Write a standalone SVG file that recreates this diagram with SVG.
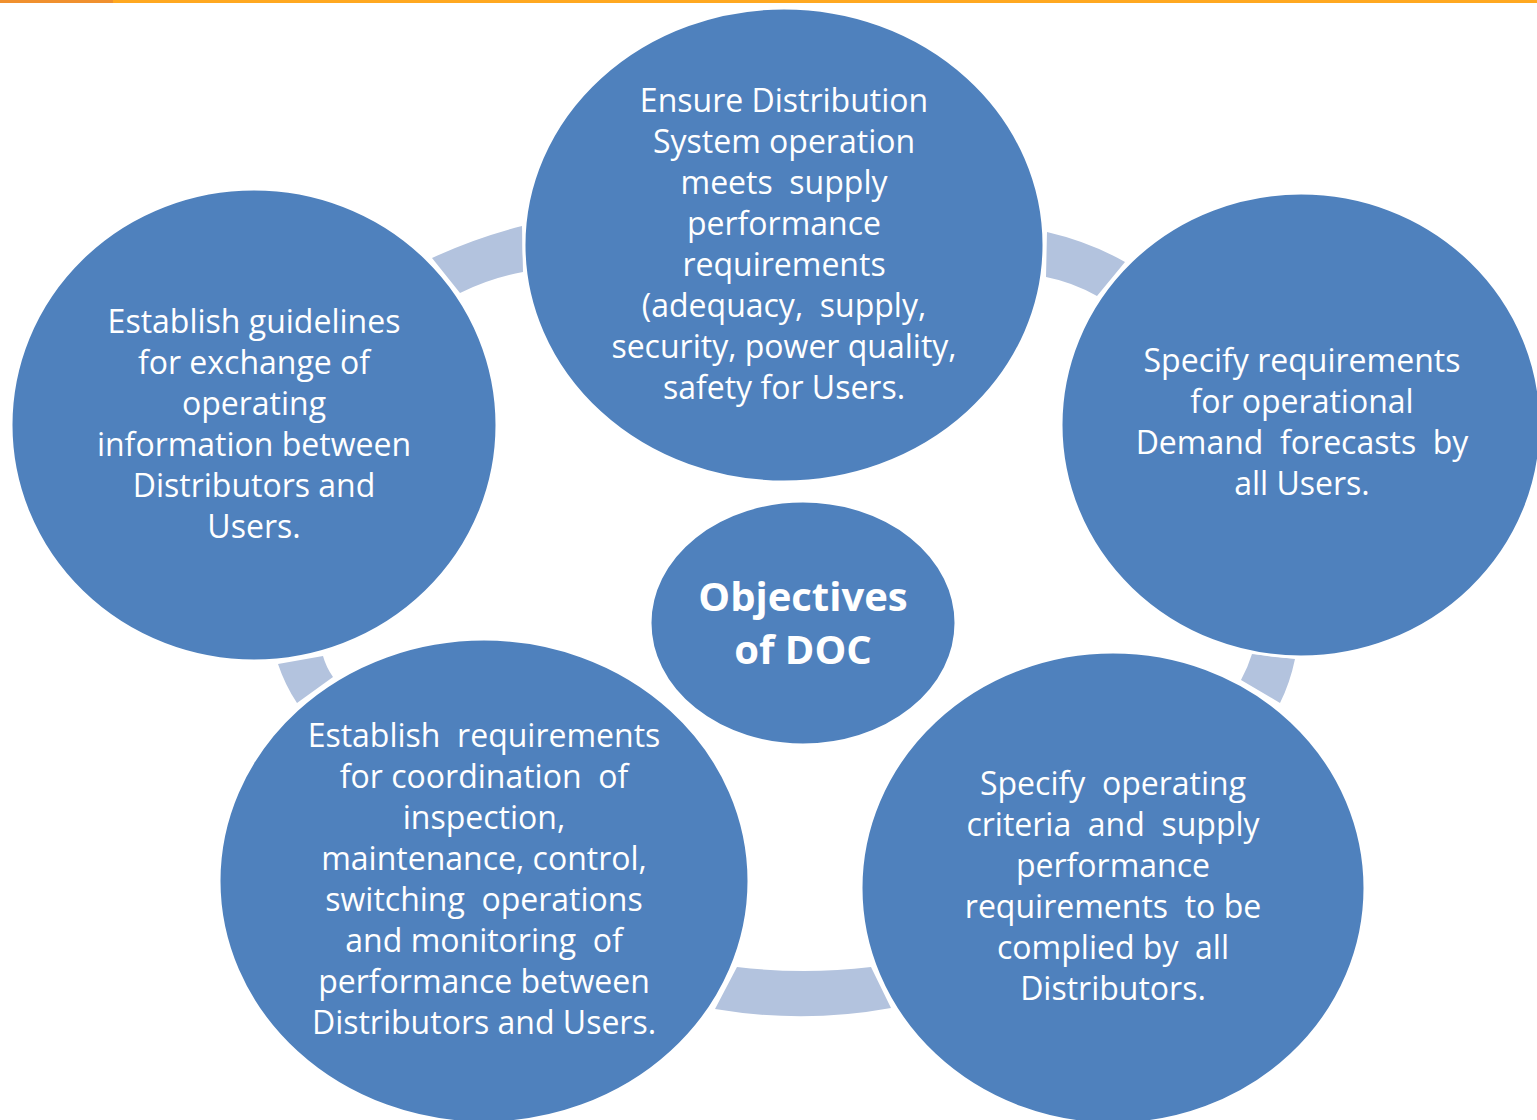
<svg xmlns="http://www.w3.org/2000/svg" width="1537" height="1120" viewBox="0 0 1537 1120">
<style>
.node{fill:#4F81BD;stroke:#FFFFFF;stroke-width:3}
.arc{fill:#B3C3DE}
.t{font-family:"Open Sans","Liberation Sans",sans-serif;font-size:32px;fill:#FFFFFF;text-anchor:middle;white-space:pre}
.c{font-family:"Open Sans","Liberation Sans",sans-serif;font-size:40px;font-weight:bold;fill:#FFFFFF;text-anchor:middle}
</style>
<rect x="0" y="0" width="1537" height="1120" fill="#FFFFFF"/>
<rect x="0" y="0" width="1537" height="3" fill="#FFA820"/>
<rect x="0" y="0" width="113" height="3" fill="#F0902F"/>
<g id="connectors">
<path class="arc" d="M432,258 Q475,238 522,226 L523,272 Q490,278 460,293 Z"/>
<path class="arc" d="M1047,232 Q1090,242 1125,262 L1097,296 Q1072,282 1046,277 Z"/>
<path class="arc" d="M1252,654 L1295,659 Q1290,683 1280,703 L1241,680 Q1248,667 1252,654 Z"/>
<path class="arc" d="M278,664 L323,656 Q326,667 333,677 L297,703 Q285,685 278,664 Z"/>
<path class="arc" d="M737,967 Q804,975 871,967 L891,1008 Q804,1024 715,1009 Z"/>
</g>
<g id="node-top">
<ellipse class="node" cx="784" cy="245" rx="260" ry="237"/>
<text class="t" x="784" y="112">Ensure Distribution</text>
<text class="t" x="784" y="153">System operation</text>
<text class="t" x="784" y="194">meets  supply</text>
<text class="t" x="784" y="235">performance</text>
<text class="t" x="784" y="276">requirements</text>
<text class="t" x="784" y="317">(adequacy,  supply,</text>
<text class="t" x="784" y="358">security, power quality,</text>
<text class="t" x="784" y="399">safety for Users.</text>
</g>
<g id="node-left">
<ellipse class="node" cx="254" cy="425" rx="243" ry="236"/>
<text class="t" x="254" y="333">Establish guidelines</text>
<text class="t" x="254" y="374">for exchange of</text>
<text class="t" x="254" y="415">operating</text>
<text class="t" x="254" y="456">information between</text>
<text class="t" x="254" y="497">Distributors and</text>
<text class="t" x="254" y="538">Users.</text>
</g>
<g id="node-right">
<ellipse class="node" cx="1301" cy="425" rx="240" ry="232"/>
<text class="t" x="1302" y="372">Specify requirements</text>
<text class="t" x="1302" y="413">for operational</text>
<text class="t" x="1302" y="454">Demand  forecasts  by</text>
<text class="t" x="1302" y="495">all Users.</text>
</g>
<g id="node-bottom-right">
<ellipse class="node" cx="1113" cy="888" rx="252" ry="236"/>
<text class="t" x="1113" y="795">Specify  operating</text>
<text class="t" x="1113" y="836">criteria  and  supply</text>
<text class="t" x="1113" y="877">performance</text>
<text class="t" x="1113" y="918">requirements  to be</text>
<text class="t" x="1113" y="959">complied by  all</text>
<text class="t" x="1113" y="1000">Distributors.</text>
</g>
<g id="node-bottom-left">
<ellipse class="node" cx="484" cy="881" rx="265" ry="242"/>
<text class="t" x="484" y="747">Establish  requirements</text>
<text class="t" x="484" y="788">for coordination  of</text>
<text class="t" x="484" y="829">inspection,</text>
<text class="t" x="484" y="870">maintenance, control,</text>
<text class="t" x="484" y="911">switching  operations</text>
<text class="t" x="484" y="952">and monitoring  of</text>
<text class="t" x="484" y="993">performance between</text>
<text class="t" x="484" y="1034">Distributors and Users.</text>
</g>
<g id="node-center">
<ellipse class="node" cx="803" cy="623" rx="153" ry="122"/>
<text class="c" x="803" y="611">Objectives</text>
<text class="c" x="803" y="664">of DOC</text>
</g>
</svg>
